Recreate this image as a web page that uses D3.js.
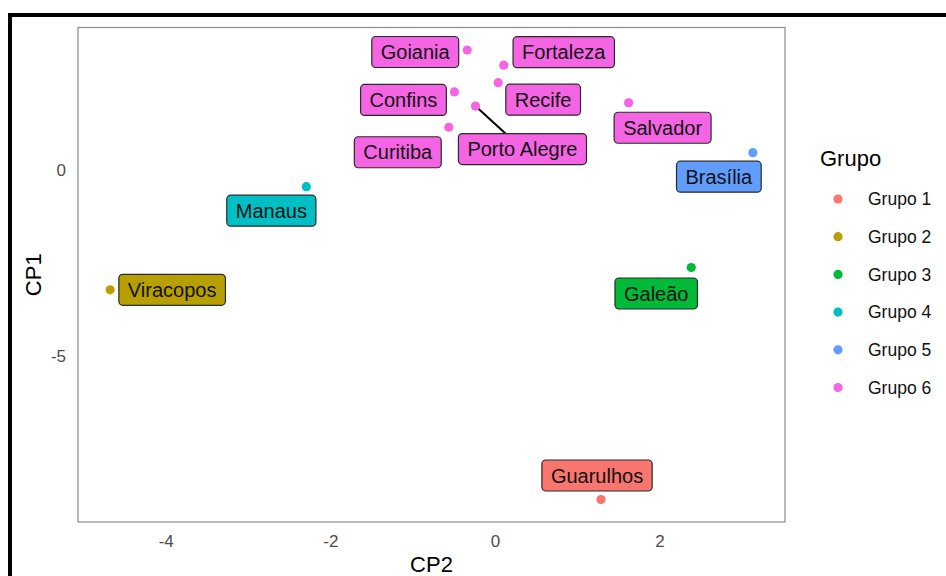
<!DOCTYPE html>
<html>
<head>
<meta charset="utf-8">
<script src="https://cdn.jsdelivr.net/npm/d3@7"></script>
<style>
  html, body { margin: 0; padding: 0; background: #fff; }
  svg { display: block; font-family: "Liberation Sans", Arial, Helvetica, sans-serif; }
</style>
</head>
<body>
<svg id="chart" width="946" height="576"></svg>
<script>
// Airports projected on the first two principal components
const airports = ["Goiania", "Fortaleza", "Recife", "Confins", "Porto Alegre", "Curitiba",
                  "Salvador", "Brasília", "Manaus", "Viracopos", "Galeão", "Guarulhos"];
const cp2Values = [-0.337, 0.107, 0.039, -0.492, -0.237, -0.561, 1.624, 3.134, -2.292, -4.676, 2.385, 1.289];
const cp1Values = [3.23, 2.82, 2.35, 2.10, 1.72, 1.15, 1.81, 0.465, -0.449, -3.226, -2.626, -8.871];
const groupOf   = ["Grupo 6", "Grupo 6", "Grupo 6", "Grupo 6", "Grupo 6", "Grupo 6",
                   "Grupo 6", "Grupo 5", "Grupo 4", "Grupo 2", "Grupo 3", "Grupo 1"];
const groups = ["Grupo 1", "Grupo 2", "Grupo 3", "Grupo 4", "Grupo 5", "Grupo 6"];
const groupColors = ["#F8766D", "#B79F00", "#00BA38", "#00BFC4", "#619CFF", "#F564E3"];
const xTicks = [-4, -2, 0, 2];
const yTicks = [0, -5];

// Label placement (pixel offset of each label centre from its point, repelled layout)
const labelNudge = [[-52, 2], [60, -13], [45, 17], [-51, 8], [47, 43], [-51, 25],
                    [34, 25], [-34, 24], [-35, 24], [62, 0], [-35, 26], [-4, -24]];

const svg = d3.select("#chart");
const W = 946, H = 576;
const panel = { left: 78, right: 785, top: 27.5, bottom: 522 };

// outer frame
svg.append("rect")
  .attr("x", 10).attr("y", 15)
  .attr("width", W + 20).attr("height", H + 20)
  .attr("fill", "none").attr("stroke", "#000").attr("stroke-width", 4);

function expanded(vals) {
  const [a, b] = d3.extent(vals);
  const pad = (b - a) * 0.05;
  return [a - pad, b + pad];
}

const x = d3.scaleLinear().domain(expanded(cp2Values)).range([panel.left, panel.right]);
const y = d3.scaleLinear().domain(expanded(cp1Values)).range([panel.bottom, panel.top]);
const color = d3.scaleOrdinal().domain(groups).range(groupColors);

// panel border
svg.append("rect")
  .attr("x", panel.left).attr("y", panel.top)
  .attr("width", panel.right - panel.left).attr("height", panel.bottom - panel.top)
  .attr("fill", "none").attr("stroke", "#8a8a8a").attr("stroke-width", 1.2);

// axes (labels only, no tick marks); plain hyphen for negatives
const fmt = d => String(d);
const xAxis = svg.append("g")
  .attr("transform", `translate(0,${panel.bottom})`)
  .call(d3.axisBottom(x).tickValues(xTicks).tickSize(0).tickPadding(13).tickFormat(fmt));
const yAxis = svg.append("g")
  .attr("transform", `translate(${panel.left},0)`)
  .call(d3.axisLeft(y).tickValues(yTicks).tickSize(0).tickPadding(12).tickFormat(fmt));
[xAxis, yAxis].forEach(g => {
  g.select(".domain").remove();
  g.selectAll("text")
    .attr("fill", "#4D4D4D")
    .style("font-size", "17px")
    .style("font-family", "'Liberation Sans', Arial, sans-serif");
});
yAxis.selectAll("text").attr("dy", "0.34em");
xAxis.selectAll("text").attr("dy", "0.71em");

// axis titles
svg.append("text")
  .attr("x", (panel.left + panel.right) / 2).attr("y", 572)
  .attr("text-anchor", "middle").style("font-size", "22px").attr("fill", "#000")
  .text("CP2");
svg.append("text")
  .attr("transform", `translate(41,${(panel.top + panel.bottom) / 2}) rotate(-90)`)
  .attr("text-anchor", "middle").style("font-size", "22px").attr("fill", "#000")
  .text("CP1");

const rows = airports.map((name, i) => ({
  name, cx: x(cp2Values[i]), cy: y(cp1Values[i]), group: groupOf[i], nudge: labelNudge[i]
}));

// labels: segments below boxes, points on top
const labelLayer = svg.append("g");
const segLayer = labelLayer.append("g");
const boxLayer = labelLayer.append("g");

const padX = 9, boxH = 31, fontPx = 20;
rows.forEach(r => {
  const lx = r.cx + r.nudge[0], ly = r.cy + r.nudge[1];
  const g = boxLayer.append("g");
  const t = g.append("text")
    .attr("x", lx).attr("y", ly)
    .attr("text-anchor", "middle").attr("dy", "0.36em")
    .style("font-size", fontPx + "px").attr("fill", "#111")
    .text(r.name);
  const w = t.node().getComputedTextLength() + 2 * padX;
  const bx = lx - w / 2, by = ly - boxH / 2;
  g.insert("rect", "text")
    .attr("x", bx).attr("y", by).attr("width", w).attr("height", boxH)
    .attr("rx", 4).attr("ry", 4)
    .attr("fill", color(r.group)).attr("stroke", "#2a2a2a").attr("stroke-width", 1.2);

  // segment from point to the box edge when the label sits far away
  const nx = Math.max(bx, Math.min(r.cx, bx + w));
  const ny = Math.max(by, Math.min(r.cy, by + boxH));
  const dist = Math.hypot(nx - r.cx, ny - r.cy);
  if (dist > 15) {
    const dx = lx - r.cx, dy = ly - r.cy;
    const tx = dx !== 0 ? (Math.abs(dx) - w / 2) / Math.abs(dx) : 0;
    const ty = dy !== 0 ? (Math.abs(dy) - boxH / 2) / Math.abs(dy) : 0;
    const s = Math.max(tx, ty);
    segLayer.append("line")
      .attr("x1", r.cx).attr("y1", r.cy)
      .attr("x2", r.cx + dx * s).attr("y2", r.cy + dy * s)
      .attr("stroke", "#000").attr("stroke-width", 2);
  }
});

svg.append("g").selectAll("circle")
  .data(rows).join("circle")
  .attr("cx", d => d.cx).attr("cy", d => d.cy).attr("r", 4.6)
  .attr("fill", d => color(d.group));

// legend
const legend = svg.append("g");
legend.append("text")
  .attr("x", 820).attr("y", 166)
  .style("font-size", "22px").attr("fill", "#000").text("Grupo");
const item = legend.selectAll("g.item").data(groups).join("g")
  .attr("class", "item")
  .attr("transform", (d, i) => `translate(838,${199 + i * 37.7})`);
item.append("circle").attr("r", 4.6).attr("fill", d => color(d));
item.append("text")
  .attr("x", 30).attr("dy", "0.36em")
  .style("font-size", "17.5px").attr("fill", "#111").text(d => d);
</script>
</body>
</html>
